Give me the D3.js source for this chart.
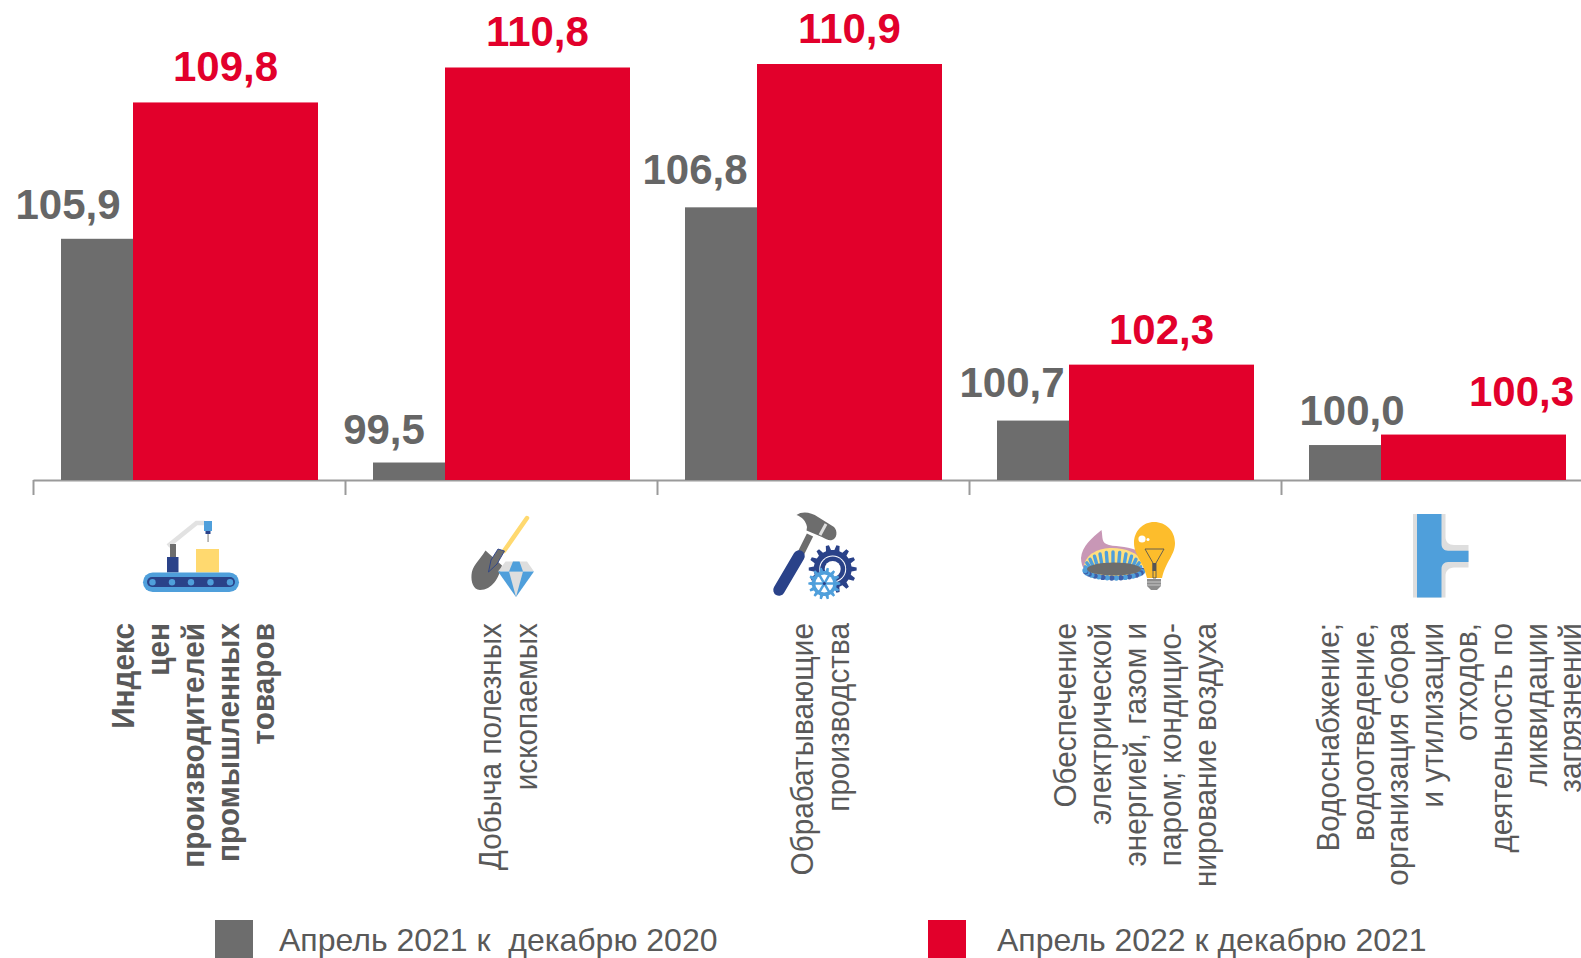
<!DOCTYPE html>
<html>
<head>
<meta charset="utf-8">
<script src="https://cdn.jsdelivr.net/npm/d3@7"></script>
<style>
  html, body { margin: 0; padding: 0; background: #fff; overflow: hidden; }
  text { font-family: "Liberation Sans", Arial, sans-serif; white-space: pre; }
</style>
</head>
<body>
<div id="chart"></div>
<script>
// Data
const categories = ['Индекс цен', 'Добыча', 'Обрабатывающие', 'Обеспечение', 'Водоснабжение'];
const values2021 = [105.9, 99.5, 106.8, 100.7, 100.0];
const values2022 = [109.8, 110.8, 110.9, 102.3, 100.3];
const categoryLines = [
    ['Индекс', 'цен', 'производителей', 'промышленных', 'товаров'],
    ['Добыча полезных', 'ископаемых'],
    ['Обрабатывающие', 'производства'],
    ['Обеспечение', 'электрической', 'энергией, газом и', 'паром; кондицио-', 'нирование воздуха'],
    ['Водоснабжение;', 'водоотведение,', 'организация сбора', 'и утилизации', 'отходов,', 'деятельность по', 'ликвидации', 'загрязнений']
];
const legendLabels = ['Апрель 2021 к  декабрю 2020', 'Апрель 2022 к декабрю 2021'];

const svgWidth = 1581;
const svgHeight = 958;
const GREY = '#6d6d6d';
const RED = '#e2002b';
const TEXT = '#595959';
const BLUE = '#4f9fdb';
const NAVY = '#2a4289';
const PALE = '#dedede';

const svg = d3.select('#chart')
    .append('svg')
    .attr('width', svgWidth)
    .attr('height', svgHeight)
    .style('display', 'block');

// Scales: the last group runs past the right edge of the page, as in the original
const x = d3.scaleLinear().domain([0, categories.length]).range([33, 1593]);
const y = d3.scaleLinear().domain([99, 110.9]).range([480, 64]);
const barWidth = 185;
const greyStart = 28;   // from the group tick to the left of the grey bar
const redStart = 100;   // red overlaps the grey bar

// Axis with ticks on group boundaries
svg.append('g')
    .attr('transform', `translate(0, ${y(99)})`)
    .call(d3.axisBottom(x)
        .tickValues(d3.range(categories.length + 1))
        .tickSize(15)
        .tickSizeOuter(0)
        .tickFormat(''))
    .call(g => g.selectAll('path, line').attr('stroke', '#9a9a9a').attr('stroke-width', 2));

// Bars
svg.selectAll('.bar2021')
    .data(values2021)
    .enter()
    .append('rect')
    .attr('class', 'bar2021')
    .attr('x', (d, i) => x(i) + greyStart)
    .attr('y', d => y(d))
    .attr('width', barWidth)
    .attr('height', d => y(99) - y(d))
    .attr('fill', GREY);

svg.selectAll('.bar2022')
    .data(values2022)
    .enter()
    .append('rect')
    .attr('class', 'bar2022')
    .attr('x', (d, i) => x(i) + redStart)
    .attr('y', d => y(d))
    .attr('width', barWidth)
    .attr('height', d => y(99) - y(d))
    .attr('fill', RED);

// Value labels, nudged by hand like the source slide
const fmt = d => d.toFixed(1).replace('.', ',');
const greyDx = [7, 11, 10, 15, 43];
const greyDy = [20, 19, 23, 24, 20];
const redDx = [0, 0, 0, 0, 48];
const redDy = [21, 21, 21, 21, 29];

svg.selectAll('.label2021')
    .data(values2021)
    .enter()
    .append('text')
    .attr('class', 'label2021')
    .attr('x', (d, i) => x(i) + greyStart + greyDx[i])
    .attr('y', (d, i) => y(d) - greyDy[i])
    .attr('text-anchor', 'middle')
    .attr('font-size', 42)
    .attr('font-weight', 'bold')
    .attr('fill', '#666666')
    .text(fmt);

svg.selectAll('.label2022')
    .data(values2022)
    .enter()
    .append('text')
    .attr('class', 'label2022')
    .attr('x', (d, i) => x(i) + redStart + barWidth / 2 + redDx[i])
    .attr('y', (d, i) => y(d) - redDy[i])
    .attr('text-anchor', 'middle')
    .attr('font-size', 42)
    .attr('font-weight', 'bold')
    .attr('fill', RED)
    .text(fmt);

// Rotated category labels, slightly condensed like the stretched slide text
const lineStep = [35.2, 35.2, 35.2, 35.2, 34.6];
const lineShift = [15, 18, 18, 21, 23];
categoryLines.forEach((lines, i) => {
    const middle = (x(i) + x(i + 1)) / 2 + lineShift[i];
    lines.forEach((line, j) => {
        const pos = middle + (j - (lines.length - 1) / 2) * lineStep[i];
        svg.append('text')
            .attr('transform', `translate(${pos}, 623) rotate(-90) scale(0.93, 1)`)
            .attr('text-anchor', 'end')
            .attr('font-size', 32)
            .attr('font-weight', i === 0 ? 'bold' : 'normal')
            .attr('fill', TEXT)
            .text(line);
    });
});

// Legend
const legend = svg.selectAll('.legend')
    .data(legendLabels)
    .enter()
    .append('g')
    .attr('class', 'legend');
legend.append('rect')
    .attr('x', (d, i) => [215, 928][i])
    .attr('y', 920)
    .attr('width', 38)
    .attr('height', 38)
    .attr('fill', (d, i) => [GREY, RED][i]);
legend.append('text')
    .attr('x', (d, i) => [279, 997][i])
    .attr('y', 951)
    .attr('font-size', 32)
    .attr('fill', TEXT)
    .text(d => d);

// Icons under the axis
function gearPath(cx, cy, rOut, rIn, teeth) {
    const pts = [];
    for (let t = 0; t < teeth; t++) {
        const a = t / teeth * 2 * Math.PI;
        const w = Math.PI / teeth * 0.5;
        pts.push([a - w * 1.2, rIn], [a - w * 0.6, rOut], [a + w * 0.6, rOut], [a + w * 1.2, rIn]);
    }
    return d3.line().curve(d3.curveLinearClosed)(pts.map(p => [cx + p[1] * Math.cos(p[0]), cy + p[1] * Math.sin(p[0])]));
}

// conveyor
const conveyor = svg.append('g');
conveyor.append('path').attr('d', 'M168 546L196.5 523H205').attr('fill', 'none').attr('stroke', '#e2e2e2').attr('stroke-width', 4.5);
conveyor.append('rect').attr('x', 170).attr('y', 544).attr('width', 6).attr('height', 14).attr('fill', GREY);
conveyor.append('rect').attr('x', 167).attr('y', 557).attr('width', 11.5).attr('height', 15.5).attr('fill', NAVY);
conveyor.append('rect').attr('x', 204).attr('y', 521).attr('width', 8).attr('height', 10).attr('fill', BLUE);
conveyor.append('rect').attr('x', 205.5).attr('y', 531).attr('width', 5).attr('height', 3).attr('fill', NAVY);
conveyor.append('rect').attr('x', 207.6).attr('y', 534).attr('width', 0.9).attr('height', 8).attr('fill', GREY);
conveyor.append('rect').attr('x', 196).attr('y', 549).attr('width', 23).attr('height', 23.5).attr('fill', '#ffd96f');
conveyor.append('rect').attr('x', 143).attr('y', 572.5).attr('width', 96).attr('height', 19.5).attr('rx', 9.7).attr('fill', BLUE);
conveyor.append('rect').attr('x', 147).attr('y', 577).attr('width', 88).attr('height', 10).attr('rx', 5).attr('fill', NAVY);
[152.5, 172, 191, 210.5, 230].forEach(cx => {
    conveyor.append('circle').attr('cx', cx).attr('cy', 582.3).attr('r', 3.2).attr('fill', BLUE);
});

// shovel and diamond
const shovel = svg.append('g');
shovel.append('path').attr('d', 'M527 518L504 551').attr('stroke', '#ffd96f').attr('stroke-width', 4.5).attr('stroke-linecap', 'round');
shovel.append('path').attr('d', 'M485.5 550.5L502 565.5C499 578 492 590 480 590C473 590 471 581 471.5 575C472 566 479 561 485.5 550.5Z').attr('fill', GREY);
shovel.append('path').attr('d', 'M504.5 551L498 549L491 560L488.5 572L497 564Z').attr('fill', GREY).attr('stroke', NAVY).attr('stroke-width', 0.9);
shovel.append('path').attr('d', 'M505.5 561.5H527L534 571.5H498Z').attr('fill', PALE);
shovel.append('path').attr('d', 'M498 571.5H534L516 597Z').attr('fill', BLUE);
shovel.append('path').attr('d', 'M509 571.5H523L516 597Z').attr('fill', PALE);
shovel.append('path').attr('d', 'M513 561.5H519.5L523 571.5H509Z').attr('fill', BLUE);

// hammer and gears
const hammer = svg.append('g');
hammer.append('path').attr('d', 'M810 535L800 555').attr('stroke', GREY).attr('stroke-width', 7);
hammer.append('path').attr('d', 'M799 556L779 590').attr('stroke', NAVY).attr('stroke-width', 11.5).attr('stroke-linecap', 'round');
hammer.append('path').attr('d', 'M796.5 515C802 511 811 512 818 517L834 527C838 531 837 539 832 540C829 541 826 539 822 537L806.5 530.5L807 527C806 521 802 517 796.5 515Z').attr('fill', GREY);
hammer.append('path').attr('d', 'M826 524L820 535').attr('stroke', PALE).attr('stroke-width', 3);
hammer.append('path').attr('d', gearPath(832.7, 569, 24, 19, 14)).attr('fill', NAVY);
hammer.append('circle').attr('cx', 832.7).attr('cy', 569).attr('r', 13.5).attr('fill', '#fff');
hammer.append('circle').attr('cx', 832.7).attr('cy', 569).attr('r', 12.5).attr('fill', NAVY);
hammer.append('circle').attr('cx', 832.7).attr('cy', 569).attr('r', 8).attr('fill', '#fff');
hammer.append('path').attr('d', gearPath(824.3, 583.5, 16, 12.5, 14)).attr('fill', BLUE);
hammer.append('circle').attr('cx', 824.3).attr('cy', 583.5).attr('r', 9).attr('fill', '#fff');
d3.range(6).forEach(k => {
    const a = k * Math.PI / 3;
    hammer.append('line')
        .attr('x1', 824.3).attr('y1', 583.5)
        .attr('x2', 824.3 + 10 * Math.cos(a)).attr('y2', 583.5 + 10 * Math.sin(a))
        .attr('stroke', BLUE).attr('stroke-width', 2.5);
});
hammer.append('circle').attr('cx', 824.3).attr('cy', 583.5).attr('r', 1.5).attr('fill', NAVY);

// burner and bulb
const burner = svg.append('g');
burner.append('path').attr('d', 'M1101.5 530C1103 538 1101 543 1109 545C1118 547 1130 546 1140 552L1134 572L1098 578C1086 576 1081 567 1081 558C1082 546 1092 538 1101.5 530Z').attr('fill', '#c897b6');
burner.append('path').attr('d', 'M1084 566C1086 553 1100 548 1112 548C1126 548 1138 553 1143 562L1140 576L1092 578Z').attr('fill', '#ffdf7e');
d3.range(13).forEach(k => {
    const a = Math.PI * (1.04 + k / 12 * 0.92);
    const bx = 1113 + 24 * Math.cos(a);
    const by = 570 + 6 * Math.sin(a);
    const tx = 1113 + 28 * Math.cos(a);
    const ty = 569 + 17 * Math.sin(a);
    burner.append('line').attr('x1', bx).attr('y1', by).attr('x2', tx).attr('y2', ty)
        .attr('stroke', BLUE).attr('stroke-width', 3.4).attr('stroke-linecap', 'round');
});
d3.range(20).forEach(k => {
    const a = Math.PI * (0.02 + k / 19 * 0.96);
    burner.append('circle')
        .attr('cx', 1114 + 29 * Math.cos(a)).attr('cy', 570 + 8 * Math.sin(a))
        .attr('r', 2.7).attr('fill', k % 2 ? BLUE : '#3f5fa8');
});
burner.append('ellipse').attr('cx', 1114).attr('cy', 569).attr('rx', 27).attr('ry', 6.5).attr('fill', GREY);
burner.append('path').attr('d', 'M1154 522C1166 522 1175 531 1175 543C1175 555 1166 561 1162 578H1147C1143 561 1134 555 1134 543C1134 531 1143 522 1154 522Z').attr('fill', '#fdbd2c');
burner.append('path').attr('d', 'M1147 579H1161V586L1157 590H1151L1147 586Z').attr('fill', '#8c8c8c');
burner.append('path').attr('d', 'M1147 582H1161M1147 585H1161').attr('stroke', '#d8d8d8').attr('stroke-width', 0.8);
burner.append('path').attr('d', 'M1145 549H1164L1156 563V578H1153V563Z').attr('fill', 'none').attr('stroke', '#555').attr('stroke-width', 0.9);
burner.append('rect').attr('x', 1152.5).attr('y', 563).attr('width', 3.5).attr('height', 8).attr('fill', '#555');
burner.append('circle').attr('cx', 1142).attr('cy', 539).attr('r', 3.6).attr('fill', '#fff');
burner.append('circle').attr('cx', 1148).attr('cy', 539.5).attr('r', 1.5).attr('fill', '#fff');

// pipe
const pipe = svg.append('g');
pipe.append('path').attr('d', 'M1413 514H1445.5V537C1445.5 542 1449 545 1454 545H1468.5V567.5H1454C1449 567.5 1445.5 571 1445.5 576V597.5H1413Z').attr('fill', PALE);
pipe.append('path').attr('d', 'M1417 514H1441.5V544C1441.5 548 1444 550.7 1448 550.7H1468.5V562H1448C1444 562 1441.5 565 1441.5 569V597.5H1417Z').attr('fill', BLUE);
</script>
</body>
</html>
